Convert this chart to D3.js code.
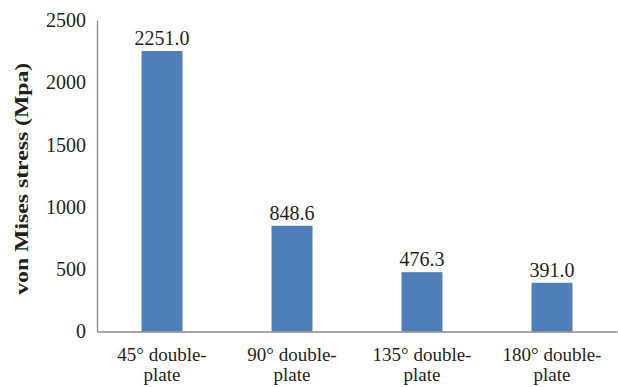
<!DOCTYPE html>
<html>
<head>
<meta charset="utf-8">
<script src="https://cdn.jsdelivr.net/npm/d3@7"></script>
<style>
  html, body { margin: 0; padding: 0; background: #fff; }
  svg { display: block; }
  text { font-family: "Liberation Serif", "Times New Roman", serif; fill: #231f20; }
</style>
</head>
<body>
<svg id="chart" width="618" height="387"></svg>
<script>
// Von Mises stress for each double-plate configuration
const categories = ["45° double-plate", "90° double-plate", "135° double-plate", "180° double-plate"];
const labelLines = [["45° double-", "plate"], ["90° double-", "plate"], ["135° double-", "plate"], ["180° double-", "plate"]];
const stress = [2251.0, 848.6, 476.3, 391.0];
const yTicks = [0, 500, 1000, 1500, 2000, 2500];

const SERIF = "'Liberation Serif', 'Times New Roman', serif";
const svg = d3.select("#chart");
const margin = { left: 97, right: 1, top: 20, bottom: 55.5 };
const W = 618, H = 387;

const x = d3.scaleBand()
  .domain(categories)
  .range([margin.left, W - margin.right])
  .paddingInner(0.685)
  .paddingOuter(0.3425);

const y = d3.scaleLinear()
  .domain([0, 2500])
  .range([H - margin.bottom, margin.top]);

// Bars
svg.append("g")
  .selectAll("rect")
  .data(stress)
  .join("rect")
  .attr("x", (d, i) => x(categories[i]))
  .attr("y", d => y(d))
  .attr("width", x.bandwidth())
  .attr("height", d => y(0) - y(d))
  .attr("fill", "#4f7fb9");

// Value labels above bars
svg.append("g")
  .selectAll("text")
  .data(stress)
  .join("text")
  .attr("x", (d, i) => x(categories[i]) + x.bandwidth() / 2)
  .attr("y", d => y(d) - 6)
  .attr("text-anchor", "middle")
  .attr("font-family", SERIF)
  .style("font-size", "20px")
  .text(d => d.toFixed(1));

// Y axis (labels only, no tick marks)
const yAxis = d3.axisLeft(y).tickValues(yTicks).tickSize(0).tickPadding(11).tickFormat(d3.format("d"));
const gy = svg.append("g")
  .attr("transform", `translate(${margin.left},0)`)
  .call(yAxis)
  .attr("font-family", SERIF)
  .attr("font-size", 20);
gy.select(".domain").attr("stroke", "#898989").attr("stroke-width", 1.3);
gy.selectAll(".tick text").attr("fill", "#231f20");

// X axis baseline
const xAxis = d3.axisBottom(x).tickSize(0).tickFormat("");
const gx = svg.append("g")
  .attr("transform", `translate(0,${y(0)})`)
  .call(xAxis);
gx.select(".domain").attr("stroke", "#898989").attr("stroke-width", 1.3);

// Two-line category labels
const catLabels = svg.append("g")
  .selectAll("text")
  .data(categories)
  .join("text")
  .attr("x", d => x(d) + x.bandwidth() / 2)
  .attr("y", 360.5)
  .attr("text-anchor", "middle")
  .attr("font-family", SERIF)
  .style("font-size", "19px");
catLabels.each(function(d, i) {
  const t = d3.select(this);
  labelLines[i].forEach((line, j) => {
    t.append("tspan")
      .attr("x", x(d) + x.bandwidth() / 2)
      .attr("dy", j === 0 ? 0 : 20.5)
      .text(line);
  });
});

// Y axis title
svg.append("text")
  .attr("transform", `translate(28,${(y(0) + y(2500)) / 2 + 3}) rotate(-90)`)
  .attr("text-anchor", "middle")
  .attr("textLength", 232)
  .attr("lengthAdjust", "spacingAndGlyphs")
  .attr("font-family", SERIF)
  .style("font-size", "19px")
  .style("font-weight", "bold")
  .text("von Mises stress (Mpa)");
</script>
</body>
</html>
